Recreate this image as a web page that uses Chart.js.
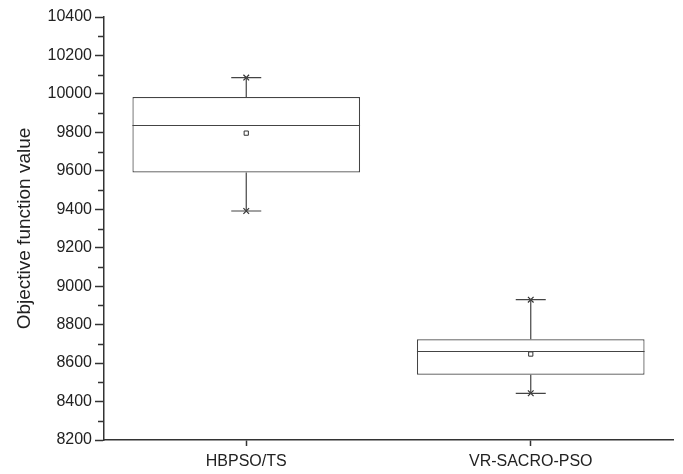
<!DOCTYPE html>
<html>
<head>
<meta charset="utf-8">
<script src="https://cdn.jsdelivr.net/npm/chart.js@4/dist/chart.umd.min.js"></script>
<style>
  html, body { margin: 0; padding: 0; background: #fff; }
  #wrap { width: 683px; height: 474px; }
</style>
</head>
<body>
<div id="wrap"><canvas id="boxChart"></canvas></div>
<script>
const ctx = document.getElementById("boxChart");

const labels = ["HBPSO/TS", "VR-SACRO-PSO"];
const minValues = [9391, 8443];
const q1Values = [9591, 8540];
const medianValues = [9838, 8661];
const q3Values = [9984, 8724];
const maxValues = [10085, 8930];
const meanValues = [9796, 8647];

const lineColor = "#444444";
const axisColor = "#333333";
const textColor = "#222222";

// whiskers, caps and median line drawn on top of the box bars
const boxPlugin = {
    id: "boxExtras",
    afterDatasetsDraw(chart){
        const c = chart.ctx;
        const y = chart.scales.y;
        const meta = chart.getDatasetMeta(0);
        c.save();
        c.strokeStyle = lineColor;
        c.lineWidth = 1.2;
        meta.data.forEach((bar, i) => {
            const cx = bar.x;
            const half = bar.width / 2;
            const med = Math.round(y.getPixelForValue(medianValues[i])) + 0.5;
            c.beginPath();
            c.moveTo(cx - half, med);
            c.lineTo(cx + half, med);
            // upper whisker
            c.moveTo(cx, y.getPixelForValue(q3Values[i]));
            c.lineTo(cx, y.getPixelForValue(maxValues[i]));
            // lower whisker
            c.moveTo(cx, y.getPixelForValue(q1Values[i]));
            c.lineTo(cx, y.getPixelForValue(minValues[i]));
            // caps
            const top = y.getPixelForValue(maxValues[i]);
            const bot = y.getPixelForValue(minValues[i]);
            c.moveTo(cx - 15, top);
            c.lineTo(cx + 15, top);
            c.moveTo(cx - 15, bot);
            c.lineTo(cx + 15, bot);
            c.stroke();
        });
        c.restore();
    },
    afterDraw(chart){
        // minor ticks on the y axis
        const c = chart.ctx;
        const y = chart.scales.y;
        c.save();
        c.strokeStyle = axisColor;
        c.lineWidth = 1.5;
        c.beginPath();
        for(let v = y.min + 100; v < y.max; v += 200){
            const py = Math.round(y.getPixelForValue(v)) + 0.5;
            c.moveTo(y.right - 6, py);
            c.lineTo(y.right, py);
        }
        c.stroke();
        c.restore();
    }
};

new Chart(ctx, {
    type: "bar",
    data: {
        labels: labels,
        datasets: [
            {
                type: "bar",
                data: q1Values.map((q, i) => [q, q3Values[i]]),
                backgroundColor: "#ffffff",
                borderColor: lineColor,
                borderWidth: 1.2,
                borderSkipped: false,
                barPercentage: 0.8,
                categoryPercentage: 1,
                order: 3
            },
            {
                type: "line",
                data: meanValues,
                showLine: false,
                pointStyle: "rect",
                pointRadius: 3,
                pointBackgroundColor: "#ffffff",
                pointBorderColor: axisColor,
                pointBorderWidth: 1,
                order: 1
            },
            {
                type: "line",
                data: maxValues,
                showLine: false,
                pointStyle: "crossRot",
                pointRadius: 4,
                pointBorderColor: axisColor,
                pointBorderWidth: 1.2,
                order: 1
            },
            {
                type: "line",
                data: minValues,
                showLine: false,
                pointStyle: "crossRot",
                pointRadius: 4,
                pointBorderColor: axisColor,
                pointBorderWidth: 1.2,
                order: 1
            }
        ]
    },
    options: {
        responsive: true,
        maintainAspectRatio: false,
        animation: false,
        layout: { padding: { top: 17, right: 10, left: 0, bottom: 0 } },
        plugins: {
            legend: { display: false },
            tooltip: { enabled: false }
        },
        scales: {
            x: {
                offset: true,
                grid: {
                    display: true,
                    drawOnChartArea: false,
                    offset: false,
                    tickLength: 6,
                    tickColor: axisColor,
                    tickWidth: 1.5
                },
                border: { display: true, color: axisColor, width: 1.5 },
                ticks: {
                    color: textColor,
                    padding: 6,
                    font: { family: "'Liberation Sans', Arial, sans-serif", size: 16 }
                },
                afterFit(scale){ scale.height = 34; }
            },
            y: {
                min: 8200,
                max: 10400,
                grid: {
                    display: true,
                    drawOnChartArea: false,
                    tickLength: 9,
                    tickColor: axisColor,
                    tickWidth: 1.5
                },
                border: { display: true, color: axisColor, width: 1.5 },
                ticks: {
                    stepSize: 200,
                    color: textColor,
                    padding: 3,
                    font: { family: "'Liberation Sans', Arial, sans-serif", size: 16 },
                    callback: v => String(v)
                },
                title: {
                    display: true,
                    text: "Objective function value",
                    color: textColor,
                    padding: { top: 13, bottom: 0 },
                    font: { family: "'Liberation Sans', Arial, sans-serif", size: 19 }
                },
                afterFit(scale){ scale.width = 104; }
            }
        }
    },
    plugins: [boxPlugin]
});
</script>
</body>
</html>
